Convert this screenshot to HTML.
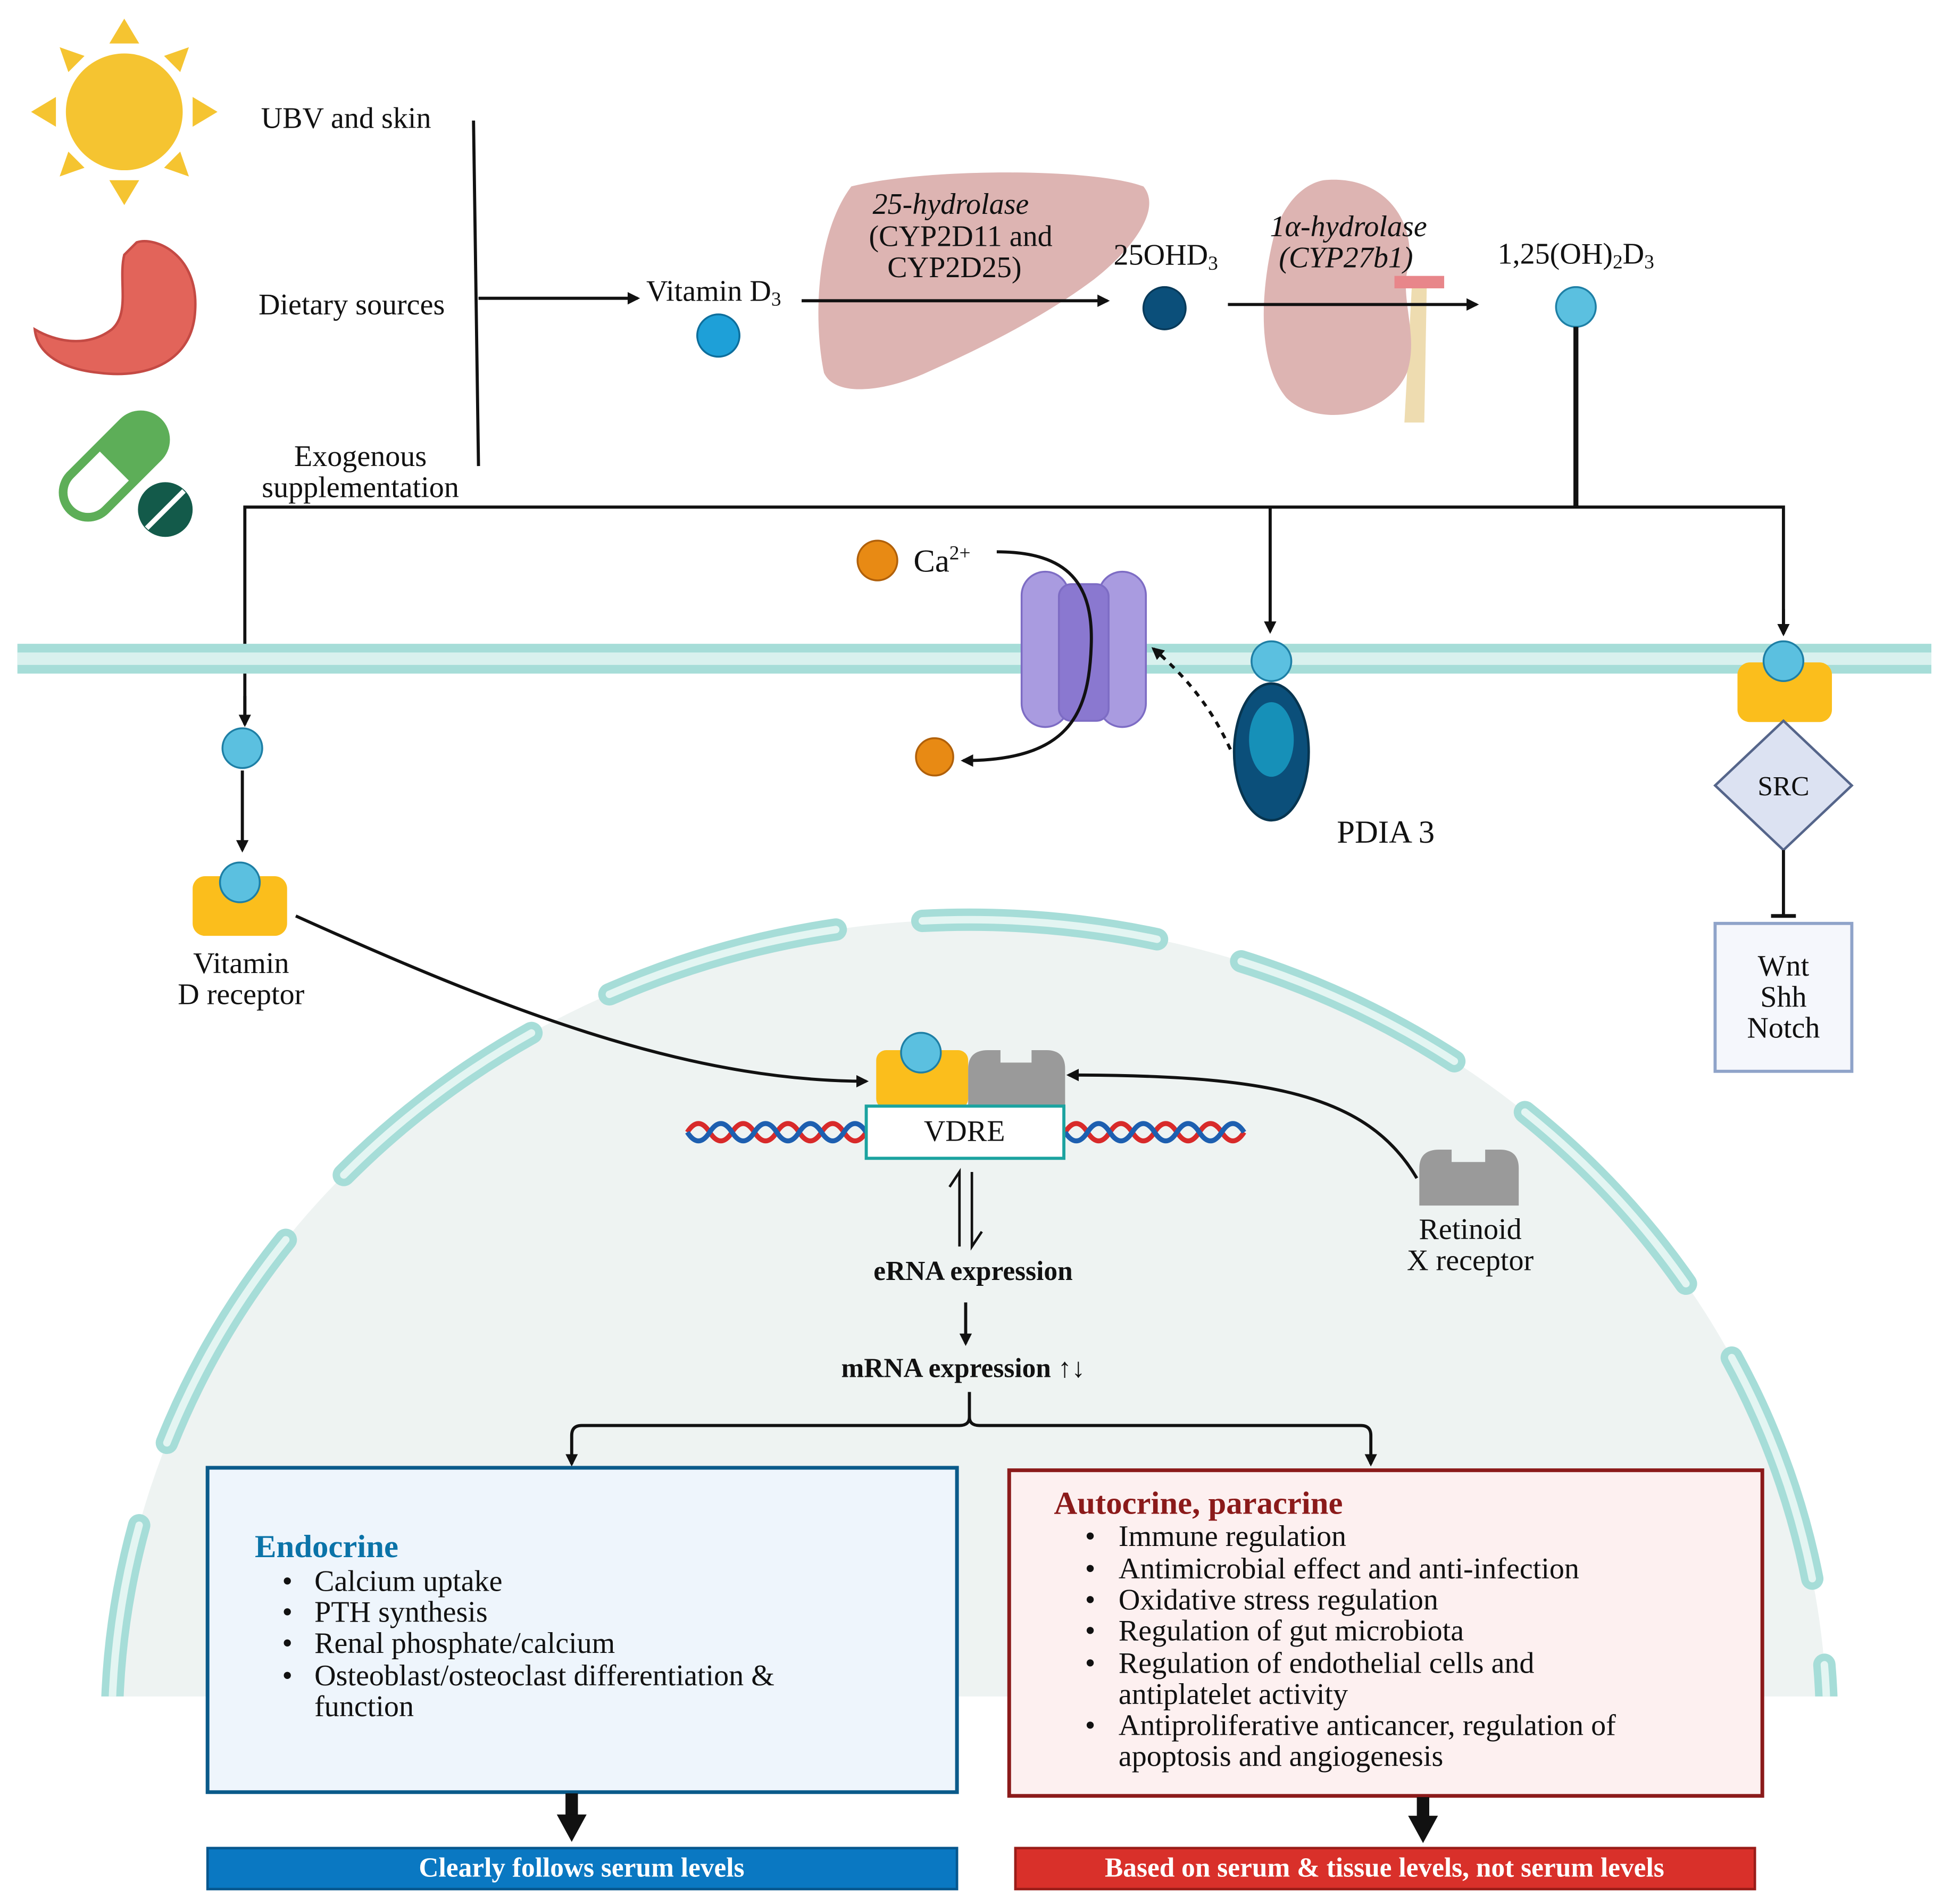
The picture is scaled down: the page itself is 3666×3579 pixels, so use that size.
<!DOCTYPE html>
<html><head><meta charset="utf-8"><style>
html,body{margin:0;padding:0;background:#fff;overflow:hidden;width:3666px;height:3579px;}
svg{display:block;}
text{font-family:"Liberation Serif",serif;fill:#111;}
.b{font-weight:bold;}
</style></head><body>
<svg width="3666" height="3579" viewBox="0 0 1569 1532" preserveAspectRatio="none" xmlns="http://www.w3.org/2000/svg">
<defs>
<marker id="ah" markerWidth="10" markerHeight="10" refX="8" refY="5" orient="auto" markerUnits="userSpaceOnUse"><path d="M0,0 L10,5 L0,10 z" fill="#111"/></marker>
<clipPath id="nc"><rect x="0" y="700" width="1560" height="665"/></clipPath>
</defs>

<!-- sun -->
<g fill="#F5C431">
<circle cx="100" cy="90" r="47"/>
<path d="M88,35 L100,15 L112,35z M88,145 L100,165 L112,145z M45,78 L25,90 L45,102z M155,78 L175,90 L155,102z"/>
<path d="M55,58 L48,38 L68,45z M145,58 L152,38 L132,45z M55,122 L48,142 L68,135z M145,122 L152,142 L132,135z"/>
</g>
<!-- stomach -->
<path d="M110,195 C125,190 160,205 157,250 C155,290 120,305 80,300 C50,297 30,285 28,265 C45,275 70,280 90,265 C105,252 95,225 100,205z" fill="#E2645A" stroke="#C44A44" stroke-width="2"/>
<!-- pill -->
<g transform="rotate(-45 92 375)"><rect x="42" y="355" width="100" height="40" rx="20" fill="#fff" stroke="#5DAE58" stroke-width="7"/><path d="M92,355 L122,355 A20,20 0 0 1 122,395 L92,395z" fill="#5DAE58"/></g>
<circle cx="133" cy="410" r="22" fill="#135A4A"/><line x1="118" y1="425" x2="148" y2="395" stroke="#fff" stroke-width="4"/>

<g font-size="24">
<text x="210" y="103">UBV and skin</text>
<text x="208" y="253">Dietary sources</text>
<text x="290" y="375" text-anchor="middle">Exogenous</text>
<text x="290" y="400" text-anchor="middle">supplementation</text>
</g>
<g stroke="#111" stroke-width="2.5" fill="none">
<line x1="381" y1="97" x2="385" y2="375"/>
<line x1="385" y1="240" x2="513" y2="240" marker-end="url(#ah)"/>
</g>
<text x="520" y="242" font-size="24">Vitamin D<tspan font-size="16" dy="4">3</tspan></text>
<circle cx="578" cy="270" r="17" fill="#1EA0D8" stroke="#0D6E9C" stroke-width="1.5"/>

<!-- liver -->
<path d="M685,150 C745,135 880,135 920,150 C935,168 912,200 880,225 C840,255 790,280 745,300 C712,315 672,320 663,300 C655,262 655,190 685,150z" fill="#DDB4B2"/>
<g font-size="24">
<text x="765" y="172" text-anchor="middle" font-style="italic">25-hydrolase</text>
<text x="773" y="198" text-anchor="middle">(CYP2D11 and</text>
<text x="768" y="223" text-anchor="middle">CYP2D25)</text>
</g>
<line x1="645" y1="242" x2="891" y2="242" stroke="#111" stroke-width="2.5" marker-end="url(#ah)"/>
<text x="938" y="213" font-size="24" text-anchor="middle">25OHD<tspan font-size="16" dy="4">3</tspan></text>
<circle cx="937" cy="248" r="17" fill="#0B4F7A" stroke="#083A5A" stroke-width="1.5"/>
<!-- kidney -->
<path d="M1130,340 L1136,230 L1148,230 L1146,340z" fill="#EEDCB0"/>
<path d="M1065,145 C1115,140 1140,180 1133,215 C1126,240 1142,270 1132,300 C1117,335 1060,345 1035,320 C1010,290 1015,230 1025,190 C1032,165 1048,148 1065,145z" fill="#DDB4B2"/>
<rect x="1122" y="222" width="40" height="10" fill="#E8868A"/>
<g font-size="24">
<text x="1085" y="190" text-anchor="middle" font-style="italic">1α-hydrolase</text>
<text x="1083" y="215" text-anchor="middle" font-style="italic">(CYP27b1)</text>
</g>
<line x1="988" y1="245" x2="1188" y2="245" stroke="#111" stroke-width="2.5" marker-end="url(#ah)"/>
<text x="1268" y="212" font-size="24" text-anchor="middle">1,25(OH)<tspan font-size="16" dy="4">2</tspan><tspan dy="-4">D</tspan><tspan font-size="16" dy="4">3</tspan></text>
<circle cx="1268" cy="247" r="16" fill="#5BC0E0" stroke="#1E7FA5" stroke-width="1.5"/>

<g stroke="#111" stroke-width="2.5" fill="none">
<line x1="1268" y1="263" x2="1268" y2="408" stroke-width="4"/>
<polyline points="197,583 197,408 1435,408 1435,510"/>
<line x1="197" y1="560" x2="197" y2="583" marker-end="url(#ah)"/>
<line x1="1435" y1="490" x2="1435" y2="510" marker-end="url(#ah)"/>
<line x1="1022" y1="408" x2="1022" y2="508" marker-end="url(#ah)"/>
</g>

<!-- membrane -->
<rect x="14" y="518" width="1540" height="24" fill="#A6DDD8"/>
<rect x="14" y="525" width="1540" height="10" fill="#D9F1EE"/>

<!-- Ca channel -->
<g fill="#A99BE0" stroke="#7D6CC4" stroke-width="1.5">
<rect x="822" y="460" width="38" height="125" rx="19"/>
<rect x="884" y="460" width="38" height="125" rx="19"/>
<rect x="852" y="470" width="40" height="110" rx="10" fill="#8A78D0"/>
</g>
<circle cx="706" cy="451" r="16" fill="#E88A14" stroke="#B0600A" stroke-width="1.5"/>
<text x="735" y="460" font-size="26">Ca<tspan font-size="16" dy="-10">2+</tspan></text>
<path d="M802,444 C860,444 880,470 878,520 C876,575 860,612 775,612" fill="none" stroke="#111" stroke-width="2.5" marker-end="url(#ah)"/>
<circle cx="752" cy="609" r="15" fill="#E88A14" stroke="#B0600A" stroke-width="1.5"/>

<!-- PDIA3 -->
<ellipse cx="1023" cy="605" rx="30" ry="55" fill="#0B4F7A" stroke="#073550" stroke-width="2"/>
<ellipse cx="1023" cy="595" rx="18" ry="30" fill="#1690B8"/>
<circle cx="1023" cy="532" r="16" fill="#5BC0E0" stroke="#1E7FA5" stroke-width="1.5"/>
<path d="M990,603 C975,570 955,545 928,522" fill="none" stroke="#111" stroke-width="2.5" stroke-dasharray="5,5" marker-end="url(#ah)"/>
<text x="1115" y="678" font-size="26" text-anchor="middle">PDIA 3</text>

<!-- SRC -->
<rect x="1398" y="533" width="76" height="48" rx="10" fill="#FBBE1C"/>
<circle cx="1435" cy="532" r="16" fill="#5BC0E0" stroke="#1E7FA5" stroke-width="1.5"/>
<path d="M1435,580 L1490,632 L1435,684 L1380,632z" fill="#DCE2F2" stroke="#55658A" stroke-width="2"/>
<text x="1435" y="640" font-size="22" text-anchor="middle">SRC</text>
<line x1="1435" y1="684" x2="1435" y2="737" stroke="#111" stroke-width="2.5"/>
<line x1="1425" y1="737" x2="1445" y2="737" stroke="#111" stroke-width="3"/>
<rect x="1380" y="743" width="110" height="119" fill="#F5F7FC" stroke="#8FA3C9" stroke-width="2.5"/>
<g font-size="24" text-anchor="middle"><text x="1435" y="785">Wnt</text><text x="1435" y="810">Shh</text><text x="1435" y="835">Notch</text></g>

<!-- left VDR -->
<circle cx="195" cy="602" r="16" fill="#5BC0E0" stroke="#1E7FA5" stroke-width="1.5"/>
<line x1="195" y1="620" x2="195" y2="684" stroke="#111" stroke-width="2.5" marker-end="url(#ah)"/>
<rect x="155" y="705" width="76" height="48" rx="10" fill="#FBBE1C"/>
<circle cx="193" cy="710" r="16" fill="#5BC0E0" stroke="#1E7FA5" stroke-width="1.5"/>
<g font-size="24" text-anchor="middle"><text x="194" y="783">Vitamin</text><text x="194" y="808">D receptor</text></g>

<!-- nucleus -->
<g clip-path="url(#nc)">
<ellipse cx="780" cy="1390" rx="690" ry="650" fill="#EEF3F2"/>
<ellipse cx="780" cy="1390" rx="690" ry="650" fill="none" stroke="#A6DDD8" stroke-width="18" stroke-linecap="round" stroke-dasharray="190,70"/>
<ellipse cx="780" cy="1390" rx="690" ry="650" fill="none" stroke="#E3F5F2" stroke-width="6" stroke-linecap="round" stroke-dasharray="190,70"/>
</g>

<path d="M238,737 C400,810 550,870 697,870" fill="none" stroke="#111" stroke-width="2.5" marker-end="url(#ah)"/>
<!-- DNA -->
<g fill="none" stroke-width="4">
<path d="M553,911 q9,-14 18,0 t18,0 t18,0 t18,0 t18,0 t18,0 t18,0 t18,0" stroke="#D82A2A"/>
<path d="M553,911 q9,14 18,0 t18,0 t18,0 t18,0 t18,0 t18,0 t18,0 t18,0" stroke="#1D5FB0"/>
<path d="M857,911 q9,-14 18,0 t18,0 t18,0 t18,0 t18,0 t18,0 t18,0 t18,0" stroke="#D82A2A"/>
<path d="M857,911 q9,14 18,0 t18,0 t18,0 t18,0 t18,0 t18,0 t18,0 t18,0" stroke="#1D5FB0"/>
</g>
<rect x="705" y="845" width="74" height="47" rx="8" fill="#FBBE1C"/>
<circle cx="741" cy="847" r="16" fill="#5BC0E0" stroke="#1E7FA5" stroke-width="1.5"/>
<path d="M779,892 L779,860 Q779,845 795,845 L805,845 L805,855 L830,855 L830,845 L842,845 Q857,845 857,860 L857,892z" fill="#9A9A9A"/>
<rect x="697" y="890" width="159" height="42" fill="#fff" stroke="#1CA3A0" stroke-width="2.5"/>
<text x="776" y="918" font-size="24" text-anchor="middle">VDRE</text>
<path d="M1140,948 C1100,880 1020,865 860,865" fill="none" stroke="#111" stroke-width="2.5" marker-end="url(#ah)"/>
<path d="M1142,970 L1142,940 Q1142,925 1158,925 L1168,925 L1168,935 L1195,935 L1195,925 L1207,925 Q1222,925 1222,940 L1222,970z" fill="#9A9A9A"/>
<g font-size="24" text-anchor="middle"><text x="1183" y="997">Retinoid</text><text x="1183" y="1022">X receptor</text></g>
<g stroke="#111" stroke-width="2" fill="none">
<path d="M772,1003 L772,943 L764,955"/><path d="M782,943 L782,1003 L790,991"/>
</g>
<text x="783" y="1030" font-size="22" class="b" text-anchor="middle">eRNA expression</text>
<line x1="777" y1="1048" x2="777" y2="1081" stroke="#111" stroke-width="2.5" marker-end="url(#ah)"/>
<text x="775" y="1108" font-size="22" class="b" text-anchor="middle">mRNA expression ↑↓</text>
<g stroke="#111" stroke-width="2.5" fill="none">
<path d="M780,1120 L780,1140 Q780,1147 772,1147 L468,1147 Q460,1147 460,1155 L460,1178" marker-end="url(#ah)"/>
<path d="M780,1140 Q780,1147 788,1147 L1095,1147 Q1103,1147 1103,1155 L1103,1178" marker-end="url(#ah)"/>
</g>

<!-- boxes -->
<rect x="167" y="1181" width="603" height="261" fill="#EEF5FC" stroke="#0A5A8A" stroke-width="3"/>
<text x="205" y="1253" font-size="26" class="b" style="fill:#0A73A8">Endocrine</text>
<g font-size="24">
<text x="227" y="1280">•</text><text x="253" y="1280">Calcium uptake</text>
<text x="227" y="1305">•</text><text x="253" y="1305">PTH synthesis</text>
<text x="227" y="1330">•</text><text x="253" y="1330">Renal phosphate/calcium</text>
<text x="227" y="1356">•</text><text x="253" y="1356">Osteoblast/osteoclast differentiation &amp;</text>
<text x="253" y="1381">function</text>
</g>
<rect x="812" y="1183" width="606" height="262" fill="#FDF0F0" stroke="#8B1A1A" stroke-width="3"/>
<text x="848" y="1218" font-size="26" class="b" style="fill:#8B1A1A">Autocrine, paracrine</text>
<g font-size="24">
<text x="873" y="1244">•</text><text x="900" y="1244">Immune regulation</text>
<text x="873" y="1270">•</text><text x="900" y="1270">Antimicrobial effect and anti-infection</text>
<text x="873" y="1295">•</text><text x="900" y="1295">Oxidative stress regulation</text>
<text x="873" y="1320">•</text><text x="900" y="1320">Regulation of gut microbiota</text>
<text x="873" y="1346">•</text><text x="900" y="1346">Regulation of endothelial cells and</text>
<text x="900" y="1371">antiplatelet activity</text>
<text x="873" y="1396">•</text><text x="900" y="1396">Antiproliferative anticancer, regulation of</text>
<text x="900" y="1421">apoptosis and angiogenesis</text>
</g>
<rect x="455" y="1443" width="10" height="20" fill="#111"/><path d="M448,1460 L472,1460 L460,1482z" fill="#111"/>
<rect x="1140" y="1446" width="10" height="18" fill="#111"/><path d="M1133,1461 L1157,1461 L1145,1483z" fill="#111"/>
<rect x="167" y="1487" width="603" height="33" fill="#0A78C2" stroke="#06578E" stroke-width="2"/>
<text x="468" y="1510" font-size="22" class="b" text-anchor="middle" style="fill:#fff">Clearly follows serum levels</text>
<rect x="817" y="1487" width="595" height="33" fill="#D9302A" stroke="#9A1C18" stroke-width="2"/>
<text x="1114" y="1510" font-size="22" class="b" text-anchor="middle" style="fill:#fff">Based on serum &amp; tissue levels, not serum levels</text>
</svg>
</body></html>
